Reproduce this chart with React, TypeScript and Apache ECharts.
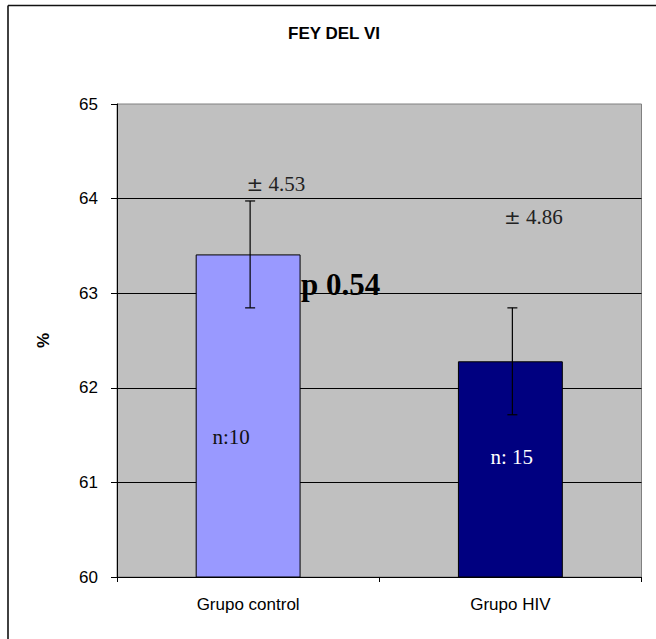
import React, { useEffect, useRef } from "react";
import * as echarts from "echarts";

const categories = ["Grupo control", "Grupo HIV"];
const means = [63.41, 62.28];
const errors = [0.565, 0.565];
const barColors = ["#9999FF", "#000080"];
const yTicks = { min: 60, max: 65, interval: 1 };

const SANS = "'Liberation Sans', Arial, sans-serif";
const SERIF = "'Liberation Serif', 'Times New Roman', serif";

export default function App() {
  const ref = useRef<HTMLDivElement>(null);
  useEffect(() => {
    if (!ref.current) return;
    const chart = echarts.init(ref.current, null, { renderer: "svg" });
    const errData = means.map((m, i) => [i, m - errors[i], m + errors[i]]);
    const pmRich = { pm: { fontFamily: "'DejaVu Sans', sans-serif", fontSize: 20, fill: "#222" } };
    chart.setOption({
      animation: false,
      backgroundColor: "#fff",
      title: {
        text: "FEY DEL VI",
        left: 329,
        textAlign: "center",
        top: 20,
        textStyle: { fontFamily: SANS, fontSize: 17, fontWeight: "bold", color: "#000" },
      },
      grid: {
        left: 117,
        top: 104,
        right: 14.5,
        bottom: 62,
        show: true,
        backgroundColor: "#C0C0C0",
        borderColor: "#808080",
        borderWidth: 1,
      },
      xAxis: {
        type: "category",
        data: categories,
        axisLine: { lineStyle: { color: "#000", width: 1 } },
        axisTick: { show: true, length: 5, alignWithLabel: false, lineStyle: { color: "#000" } },
        axisLabel: { fontFamily: SANS, fontSize: 17, color: "#000", margin: 19 },
        splitLine: { show: false },
      },
      yAxis: {
        type: "value",
        min: yTicks.min,
        max: yTicks.max,
        interval: yTicks.interval,
        name: "%",
        nameLocation: "middle",
        nameRotate: 90,
        nameGap: 65,
        nameTextStyle: { fontFamily: SANS, fontSize: 17, fontWeight: "bold", color: "#000" },
        axisLine: { show: true, lineStyle: { color: "#000", width: 1 } },
        axisTick: { show: true, length: 6, lineStyle: { color: "#000" } },
        axisLabel: { fontFamily: SANS, fontSize: 17, color: "#000", margin: 19 },
        splitLine: { show: true, showMaxLine: false, lineStyle: { color: "#000", width: 1 } },
      },
      series: [
        {
          type: "bar",
          barWidth: "40%",
          data: means.map((v, i) => ({
            value: v,
            itemStyle: { color: barColors[i], borderColor: "#000", borderWidth: 1 },
          })),
          z: 2,
        },
        {
          type: "custom",
          z: 3,
          data: errData,
          renderItem: (params: any, api: any) => {
            const x = api.value(0);
            const lo = api.coord([x, api.value(1)]);
            const hi = api.coord([x, api.value(2)]);
            const half = 5;
            const cx = lo[0] + 2;
            const style = { stroke: "#000", lineWidth: 1.2 };
            return {
              type: "group",
              children: [
                { type: "line", shape: { x1: cx, y1: hi[1], x2: cx, y2: lo[1] }, style },
                { type: "line", shape: { x1: cx - half, y1: hi[1], x2: cx + half, y2: hi[1] }, style },
                { type: "line", shape: { x1: cx - half, y1: lo[1], x2: cx + half, y2: lo[1] }, style },
              ],
            };
          },
        },
      ],
      graphic: [
        { type: "line", shape: { x1: 8, y1: 5.5, x2: 656, y2: 5.5 }, style: { stroke: "#111", lineWidth: 1.6 } },
        { type: "line", shape: { x1: 8, y1: 5.5, x2: 8, y2: 639 }, style: { stroke: "#111", lineWidth: 1.6 } },
        {
          type: "text", x: 246.5, y: 184, z: 10,
          style: { text: "{pm|±} 4.53", rich: pmRich, fontFamily: SERIF, fontSize: 21, fill: "#222", verticalAlign: "middle" },
        },
        {
          type: "text", x: 504, y: 216.5, z: 10,
          style: { text: "{pm|±} 4.86", rich: pmRich, fontFamily: SERIF, fontSize: 21, fill: "#222", verticalAlign: "middle" },
        },
        {
          type: "text", x: 301, y: 284.5, z: 10,
          style: { text: "p 0.54", fontFamily: SERIF, fontSize: 31, fontWeight: "bold", fill: "#000", verticalAlign: "middle" },
        },
        {
          type: "text", x: 212.5, y: 437, z: 10,
          style: { text: "n:10", fontFamily: SERIF, fontSize: 21, fill: "#111", verticalAlign: "middle" },
        },
        {
          type: "text", x: 490.5, y: 457, z: 10,
          style: { text: "n: 15", fontFamily: SERIF, fontSize: 21, fill: "#fff", verticalAlign: "middle" },
        },
      ],
    });
    return () => chart.dispose();
  }, []);
  return (
    <div
      ref={ref}
      style={{ position: "absolute", left: 0, top: 0, width: 656, height: 639 }}
    />
  );
}
